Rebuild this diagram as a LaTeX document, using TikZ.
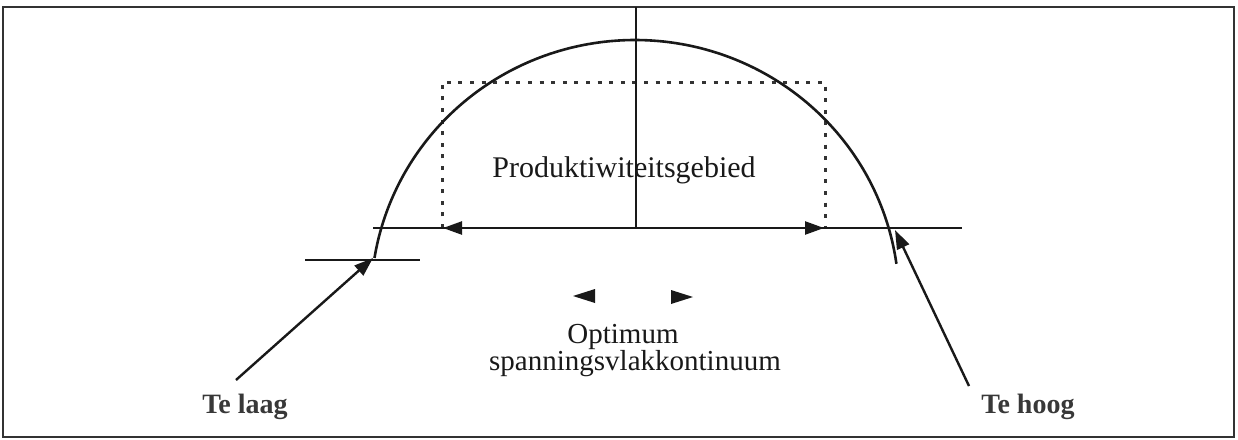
\documentclass[tikz,border=0pt]{standalone}
\usepackage{fontspec}
\setmainfont{Liberation Serif}
\usetikzlibrary{arrows.meta}
\begin{document}
\begin{tikzpicture}[x=1pt,y=-1pt,
  line/.style={line width=2.4pt,black!90},
  arr/.style={line width=2.4pt,black!90,-{Triangle[length=19pt,width=13pt]}},
  dotbox/.style={line width=3pt,black!80,dash pattern=on 4pt off 7.6pt},
  lbl/.style={font=\fontsize{29}{34}\selectfont,inner sep=0pt,anchor=base,text=black!90},
  blbl/.style={lbl,font=\fontsize{28}{34}\selectfont\bfseries,text=black!78},
  tri/.style={fill=black!90,draw=none}]
\useasboundingbox (0,0) rectangle (1238,439);
% frame
\draw[line width=2.4pt,black!80] (3,7) rectangle (1234,437);
% coordinates
\coordinate (vtop) at (636,7);
\coordinate (vbot) at (636,228);
\coordinate (hl) at (373,228);
\coordinate (hr) at (962,228);
\coordinate (rl) at (443,228);
\coordinate (rr) at (824,228);
\coordinate (lowl) at (305,260);
\coordinate (lowr) at (420,260);
% dotted box
\draw[dotbox] (442,228) -- (442,82) -- (825,82) -- (825,228);
% axes
\draw[line] (vtop) -- (vbot);
\draw[line] (hl) -- (hr);
\draw[arr] (vbot) -- (rl);
\draw[arr] (vbot) -- (rr);
\draw[line] (lowl) -- (lowr);
% arc
\draw[line width=2.6pt,black!90] plot[domain=170.7:8,samples=140,smooth] ({635+264*cos(\x)},{300-260*sin(\x)});
% labels
\node[lbl,font=\fontsize{30}{34}\selectfont] (prod) at (624,177) {Produktiwiteitsgebied};
\node[lbl] (opt) at (623,343) {Optimum};
\node[lbl] (span) at (635,370) {spanningsvlakkontinuum};
\node[blbl] (laag) at (245,413) {Te laag};
\node[blbl] (hoog) at (1028,413) {Te hoog};
% pointer arrows
\coordinate (ltail) at (236,380);
\coordinate (ltip) at (373,258);
\coordinate (rtail) at (969,386);
\coordinate (rtip) at (895,230);
\draw[arr] (ltail) -- (ltip);
\draw[arr] (rtail) -- (rtip);
% small arrowheads
\fill[tri] (573,296) -- (595,289) -- (595,303) -- cycle;
\fill[tri] (693,297) -- (671,290) -- (671,304) -- cycle;
\end{tikzpicture}
\end{document}
